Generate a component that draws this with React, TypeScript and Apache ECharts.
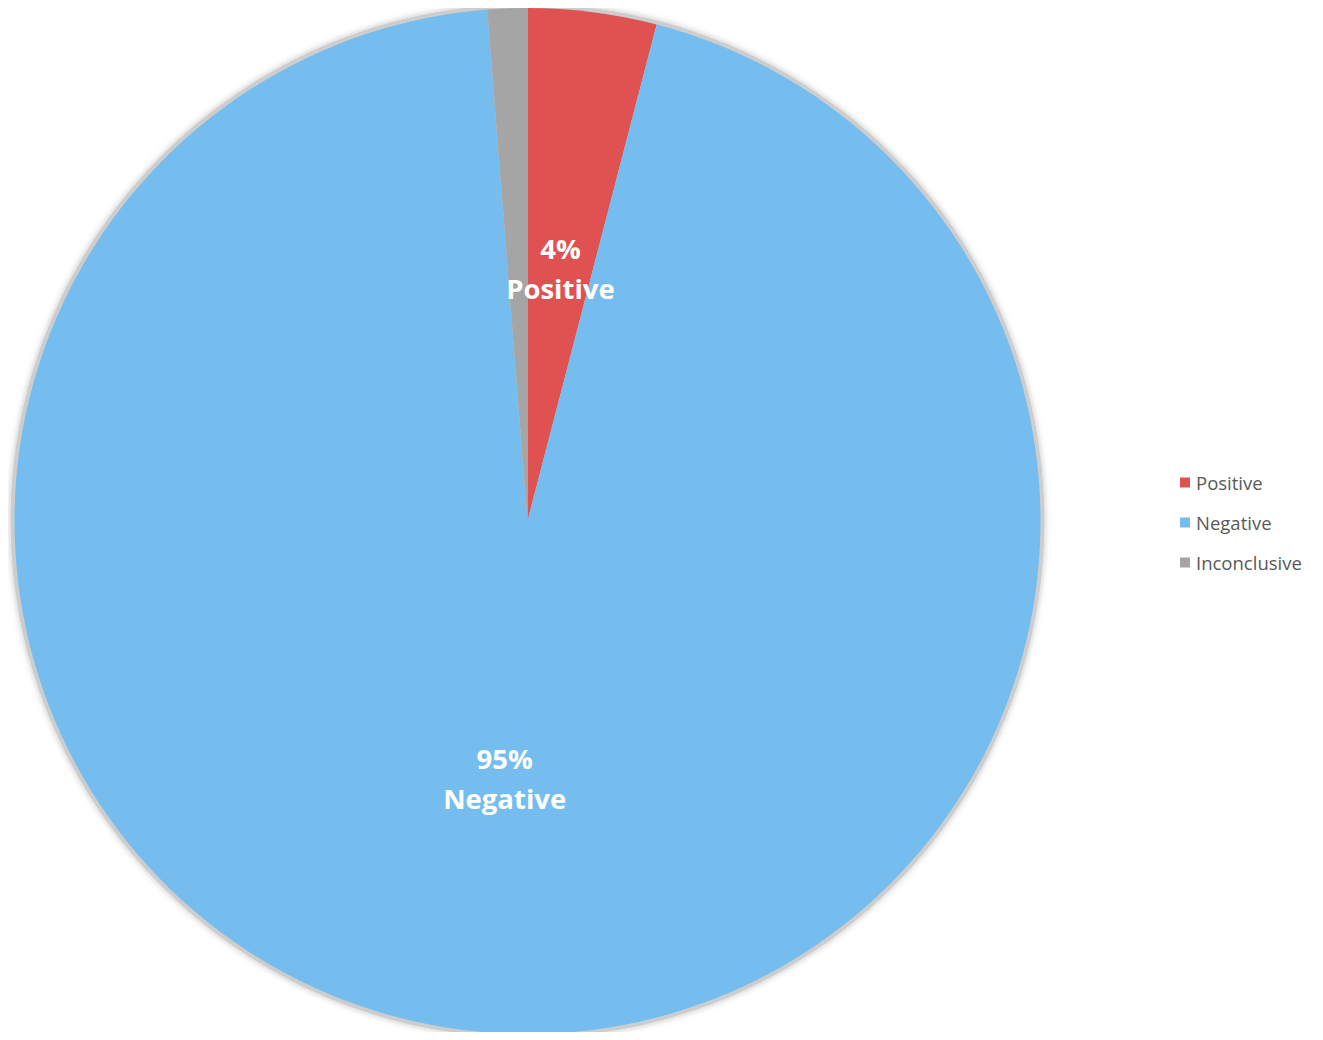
import React, { useEffect, useRef } from "react";
import * as echarts from "echarts";

const categories = ["Positive", "Negative", "Inconclusive"];
const values = [4.05, 94.7, 1.25];
const colors = ["#E05252", "#75BDEE", "#A5A5A5"];
const showLabel = [true, true, false];
const labelShiftY = [5, -1, 0];

export default function App() {
  const ref = useRef<HTMLDivElement>(null);
  useEffect(() => {
    if (!ref.current) return;
    const chart = echarts.init(ref.current, undefined, { renderer: "svg" });
    chart.setOption({
      animation: false,
      backgroundColor: "#ffffff",
      legend: {
        orient: "vertical",
        left: 1172,
        top: 465,
        padding: 0,
        itemWidth: 10,
        itemHeight: 10,
        itemGap: 21,
        icon: "rect",
        data: categories,
        textStyle: { color: "#595959", fontSize: 18.5, fontFamily: "Open Sans", padding: [0, 0, 0, 1] },
      },
      series: [
        {
          type: "pie",
          silent: true,
          center: [519.5, 513],
          radius: [0, 517],
          label: { show: false },
          labelLine: { show: false },
          itemStyle: {
            color: "#cdcdcd",
            shadowBlur: 6,
            shadowColor: "rgba(0,0,0,0.25)",
          },
          data: [{ value: 1, name: "__bg" }],
          z: 1,
        },
        {
          type: "pie",
          center: [519.5, 513],
          radius: [0, 513],
          startAngle: 90,
          clockwise: true,
          z: 2,
          label: {
            show: true,
            position: "inside",
            formatter: (p: any) => `${Math.round(p.percent)}%\n${p.name}`,
            color: "#ffffff",
            fontSize: 27.5,
            fontWeight: "bold",
            fontFamily: "Open Sans",
            lineHeight: 40,
          },
          labelLine: { show: false },
          data: categories.map((n, i) => ({
            name: n,
            value: values[i],
            itemStyle: { color: colors[i] },
            label: { show: showLabel[i], offset: [0, labelShiftY[i]] },
          })),
        },
      ],
    });
    return () => chart.dispose();
  }, []);
  return <div ref={ref} style={{ width: 1307, height: 1024 }} />;
}
